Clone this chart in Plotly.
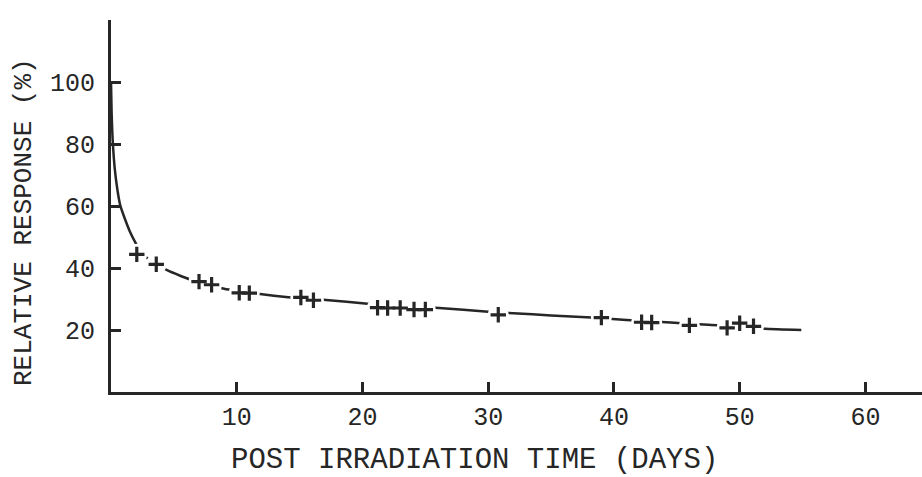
import plotly.graph_objects as go

# Measured data points (post irradiation time in days, relative response in %)
point_days = [2.05, 3.6, 7.0, 8.0, 10.2, 11.0, 15.1, 16.1, 21.2, 22.0, 23.0, 24.1, 25.0,
              30.8, 39.0, 42.2, 43.0, 46.0, 49.0, 50.0, 51.1]
point_resp = [44.4, 41.2, 35.6, 34.6, 32.0, 31.9, 30.5, 29.6, 27.2, 27.1, 27.1, 26.6, 26.6,
              24.9, 24.0, 22.5, 22.4, 21.5, 20.7, 22.2, 21.2]

# Fitted curve
curve_days = [0.0, 0.05, 0.15, 0.3, 0.5, 0.73, 1.14, 1.5, 1.9, 2.4, 3.0, 3.6, 4.5, 5.5, 6.3,
              7.5, 9.0, 11.7, 14.1, 17.1, 20.4, 23.0, 26.1, 30.0, 32.0, 35.0, 38.2, 41.0,
              44.5, 47.5, 50.5, 52.0, 54.9]
curve_resp = [100, 90, 80, 72, 65.5, 60.3, 55.5, 51.8, 48.5, 45.0, 42.8, 41.2, 39.2, 37.5, 36.3,
              35.0, 33.3, 31.7, 30.6, 29.7, 28.5, 27.7, 27.1, 25.9, 25.4, 24.7, 24.0, 23.2,
              22.4, 21.7, 21.0, 20.4, 20.0]

x_ticks = [10, 20, 30, 40, 50, 60]
y_ticks = [20, 40, 60, 80, 100]

INK = "#262626"
FONT = "Liberation Mono, Courier New, monospace"

W, H = 922, 477
ML, MT, MB = 90, 20, 85
PW = W - ML          # paper width in px
PH = H - MT - MB     # paper height in px
PLOT_LEFT = 111


def px_x(px):
    return (px - ML) / PW


def px_y(py):
    return (H - MB - py) / PH


fig = go.Figure()
fig.add_trace(go.Scatter(x=curve_days, y=curve_resp, mode="lines",
                         line=dict(color=INK, width=2.5, shape="spline", smoothing=0.6),
                         hoverinfo="skip", showlegend=False))
fig.add_trace(go.Scatter(x=point_days, y=point_resp, mode="markers",
                         marker=dict(symbol="circle", size=21, color="white", line=dict(width=0)),
                         hoverinfo="skip", showlegend=False))
fig.add_trace(go.Scatter(x=point_days, y=point_resp, mode="markers",
                         marker=dict(symbol="cross-thin", size=11, line=dict(color=INK, width=3.2)),
                         showlegend=False))
# empty trace so the label-only axis has a subplot
fig.add_trace(go.Scatter(x=[], y=[], yaxis="y3", showlegend=False, hoverinfo="skip"))

XR = [0, 64.5]
YR = [0, 120]

fig.update_layout(
    width=W, height=H,
    margin=dict(l=ML, r=0, t=MT, b=MB),
    paper_bgcolor="white", plot_bgcolor="white",
    font=dict(family=FONT, color=INK, size=25),
    xaxis=dict(range=XR, domain=[px_x(PLOT_LEFT), 1], tickvals=x_ticks,
               ticktext=[str(v) for v in x_ticks],
               ticks="inside", ticklen=10, tickwidth=3, tickcolor=INK,
               showline=True, linewidth=3, linecolor=INK, showgrid=False, zeroline=False,
               tickfont=dict(size=25, family=FONT, color=INK)),
    yaxis=dict(range=YR, tickvals=y_ticks, showticklabels=False,
               ticks="inside", ticklen=10, tickwidth=3, tickcolor=INK,
               showline=True, linewidth=3, linecolor=INK, showgrid=False, zeroline=False),
    yaxis3=dict(range=YR, overlaying="y", anchor="free", position=px_x(95), side="left",
                tickvals=y_ticks, ticktext=[str(v) for v in y_ticks], ticks="",
                showline=False, showgrid=False, zeroline=False,
                tickfont=dict(size=25, family=FONT, color=INK)),
    xaxis2=dict(range=XR, overlaying="x", side="top", anchor="y", tickvals=x_ticks,
                showticklabels=False, ticks="inside", ticklen=8, tickwidth=3, tickcolor=INK,
                showline=True, linewidth=3, linecolor=INK, showgrid=False, zeroline=False),
    yaxis2=dict(range=YR, overlaying="y", side="right", anchor="x", tickvals=y_ticks,
                showticklabels=False, ticks="inside", ticklen=8, tickwidth=3, tickcolor=INK,
                showline=False, showgrid=False, zeroline=False),
    annotations=[
        dict(text="POST IRRADIATION TIME (DAYS)", xref="paper", yref="paper",
             x=px_x(474), y=px_y(460), xanchor="center", yanchor="middle",
             showarrow=False, font=dict(size=29, family=FONT, color=INK)),
        dict(text="RELATIVE RESPONSE (%)", xref="paper", yref="paper",
             x=px_x(24), y=px_y(222), xanchor="center", yanchor="middle",
             textangle=-90, showarrow=False, font=dict(size=26, family=FONT, color=INK)),
    ],
)

fig.write_html("out.html")
